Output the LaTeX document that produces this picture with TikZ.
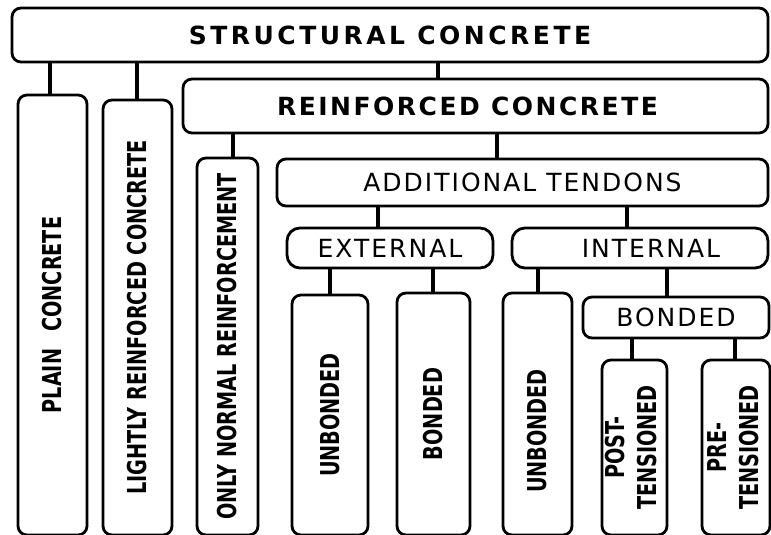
\documentclass[tikz,border=0pt]{standalone}
\usepackage{fontspec}
\setmainfont{DejaVu Sans}
\newfontfamily\narrowfont[FakeStretch=0.74]{DejaVu Sans}
\newfontfamily\headfont[LetterSpace=8]{DejaVu Sans}
\newfontfamily\titlefont[LetterSpace=14]{DejaVu Sans}
\newfontfamily\subtitlefont[LetterSpace=10]{DejaVu Sans}

\begin{document}
\begin{tikzpicture}[
  x=1pt, y=-1pt,
  hbox/.style={draw, line width=2.8pt, rounded corners=9pt, inner sep=0pt,
               font=\headfont\fontsize{25}{28}\selectfont},
  vbox/.style={draw, line width=2.8pt, rounded corners=9pt, inner sep=0pt,
               font=\narrowfont\bfseries\fontsize{26}{32}\selectfont},
  link/.style={line width=4.5pt}
]
\useasboundingbox (0,0) rectangle (771,535);
\clip (0,0) rectangle (771,535);

%--- horizontal classes ------------------------------------------------------
\node[hbox, minimum width=756pt, minimum height=54pt, font=\titlefont\bfseries\fontsize{25}{28}\selectfont]
  (sc) at (390,35) {STRUCTURAL CONCRETE};
\node[hbox, minimum width=585pt, minimum height=54pt, font=\subtitlefont\bfseries\fontsize{25}{28}\selectfont]
  (rc) at (475.5,106) {REINFORCED CONCRETE\hspace*{16pt}};
\node[hbox, minimum width=491pt, minimum height=47pt] (at) at (522.5,182.5)
  {ADDITIONAL TENDONS};
\node[hbox, minimum width=206pt, minimum height=40pt, rounded corners=13pt] (ex) at (390,248)
  {EXTERNAL};
\node[hbox, minimum width=256pt, minimum height=40pt, rounded corners=13pt] (in) at (640,248)
  {\hspace*{22pt}INTERNAL};
\node[hbox, minimum width=186pt, minimum height=41pt] (bi) at (676,317.5)
  {BONDED};

%--- vertical classes --------------------------------------------------------
\node[vbox, minimum width=69pt, minimum height=440pt] (pc) at (52.5,315)
  {\rotatebox{90}{PLAIN\hspace{0.4em} CONCRETE}};
\node[vbox, minimum width=69pt, minimum height=435pt] (lr) at (137.5,317.5)
  {\rotatebox{90}{LIGHTLY REINFORCED CONCRETE}};
\node[vbox, minimum width=61pt, minimum height=377pt] (on) at (227.5,346.5)
  {\rotatebox{90}{ONLY NORMAL REINFORCEMENT}};
\node[vbox, minimum width=76pt, minimum height=240pt] (ub1) at (330,415)
  {\rotatebox{90}{UNBONDED}};
\node[vbox, minimum width=73pt, minimum height=242pt] (bd1) at (433.5,414)
  {\rotatebox{90}{BONDED}};
\node[vbox, minimum width=69pt, minimum height=242pt] (ub2) at (537.5,414)
  {\rotatebox{90}{UNBONDED\hspace*{34pt}}};
\node[vbox, minimum width=65pt, minimum height=175pt] (pt) at (634.5,447.5)
  {\rotatebox{90}{\begin{tabular}{@{}c@{}}POST-\\TENSIONED\end{tabular}}};
\node[vbox, minimum width=68pt, minimum height=175pt] (pr) at (736,447.5)
  {\rotatebox{90}{\begin{tabular}{@{}c@{}}PRE-\\TENSIONED\end{tabular}}};

%--- links -------------------------------------------------------------------
\foreach \p/\c/\x in {sc/pc/50, sc/lr/137, sc/rc/438, rc/on/233, rc/at/497,
                      at/ex/378, at/in/627, ex/ub1/330, ex/bd1/433,
                      in/ub2/538, in/bi/667, bi/pt/632, bi/pr/735}
  \draw[link] (\p.south -| \x,0) -- (\c.north -| \x,0);
\end{tikzpicture}
\end{document}
